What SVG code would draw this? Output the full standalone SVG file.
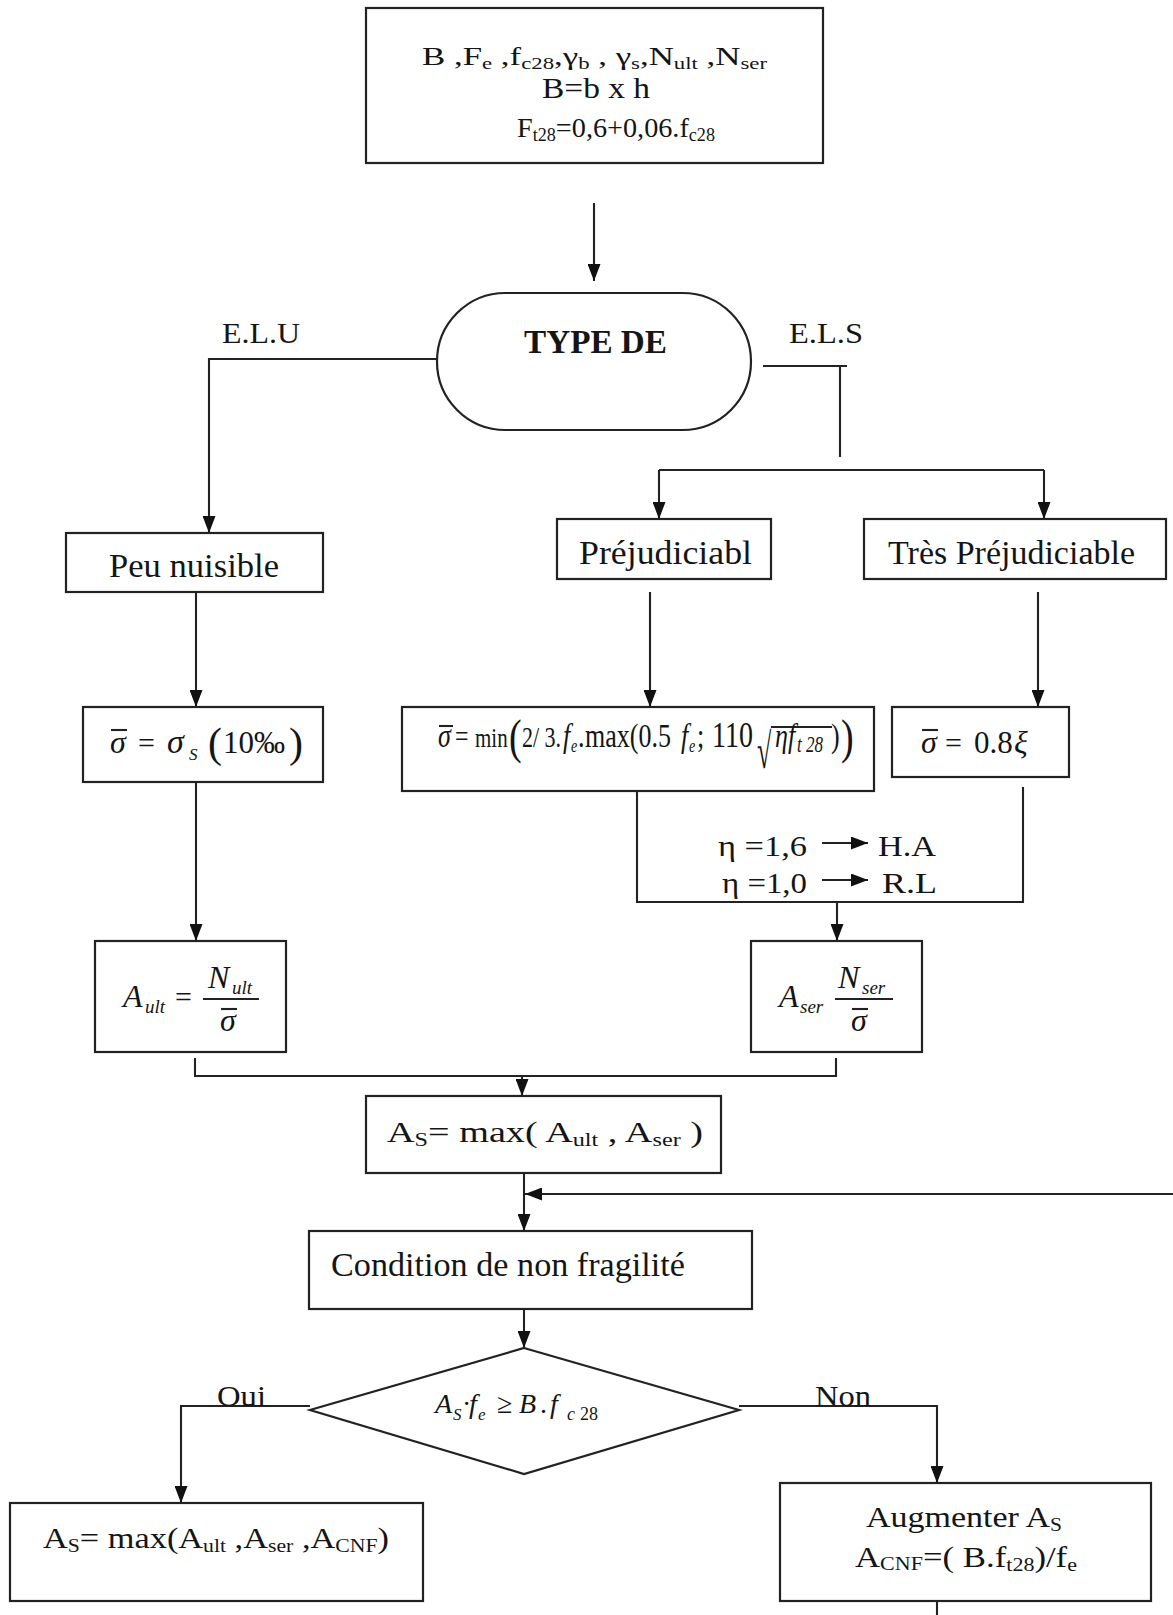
<svg xmlns="http://www.w3.org/2000/svg" width="1173" height="1615" viewBox="0 0 1173 1615">
<style>
.box{fill:#fff;stroke:#222;stroke-width:2.2}
.ln{fill:none;stroke:#222;stroke-width:2.1}
.ar{fill:none;stroke:#222;stroke-width:2.1;marker-end:url(#ah)}
.t{font-family:"Liberation Serif","Times New Roman",serif;fill:#151515}
.i{font-style:italic}
.b{font-weight:bold}
</style>
<defs>
<marker id="ah" viewBox="0 0 10 10" refX="10" refY="5" markerWidth="17" markerHeight="13" markerUnits="userSpaceOnUse" orient="auto" preserveAspectRatio="none"><path d="M0,0 L10,5 L0,10 z" fill="#111"/></marker>
</defs>
<rect width="1173" height="1615" fill="#fff"/>

<g id="connectors">
<path class="ar" d="M594,203 V281"/>
<path class="ar" d="M437,359 H209 V533"/>
<path class="ln" d="M763,366 H847 M840,366 V457"/>
<path class="ln" d="M659,470 H1044"/>
<path class="ar" d="M659,470 V519"/>
<path class="ar" d="M1044,470 V519"/>
<path class="ar" d="M196,592 V707"/>
<path class="ar" d="M650,592 V707"/>
<path class="ar" d="M1038,592 V707"/>
<path class="ar" d="M196,782 V941"/>
<path class="ln" d="M637,785 V902 H1023 V787"/>
<path class="ar" d="M837,902 V941"/>
<path class="ln" d="M195,1058 V1076 H836 V1058"/>
<path class="ar" d="M522,1076 V1096"/>
<path class="ar" d="M524,1173 V1231"/>
<path class="ar" d="M1173,1194 H525"/>
<path class="ar" d="M524,1309 V1348"/>
<path class="ar" d="M310,1406 H181 V1503"/>
<path class="ar" d="M739,1406 H937 V1483"/>
<path class="ln" d="M937,1601 V1615"/>
<path class="ar" d="M822,843 H868"/>
<path class="ar" d="M822,880 H868"/>
</g>

<g id="inputs">
<rect class="box" x="366" y="8" width="457" height="155"/>
<text class="t" x="422" y="65" font-size="26" textLength="345" lengthAdjust="spacingAndGlyphs">B ,F<tspan font-size="17" dy="4">e</tspan><tspan dy="-4"> ,f</tspan><tspan font-size="17" dy="4">c28</tspan><tspan dy="-4">,γ</tspan><tspan font-size="17" dy="4">b</tspan><tspan dy="-4"> , γ</tspan><tspan font-size="17" dy="4">s</tspan><tspan dy="-4">,N</tspan><tspan font-size="17" dy="4">ult</tspan><tspan dy="-4"> ,N</tspan><tspan font-size="17" dy="4">ser</tspan></text>
<text class="t" x="542" y="98" font-size="30" textLength="108" lengthAdjust="spacingAndGlyphs">B=b x h</text>
<text class="t" x="517" y="137" font-size="28" textLength="198" lengthAdjust="spacingAndGlyphs">F<tspan font-size="18" dy="4">t28</tspan><tspan dy="-4">=0,6+0,06.f</tspan><tspan font-size="18" dy="4">c28</tspan></text>
</g>

<g id="type">
<rect class="box" x="437" y="293" width="314" height="137" rx="68.5" ry="68.5"/>
<text class="t b" x="524" y="353" font-size="34" textLength="143" lengthAdjust="spacingAndGlyphs">TYPE DE</text>
</g>

<g id="labels">
<text class="t" x="222" y="343" font-size="30" textLength="78" lengthAdjust="spacingAndGlyphs">E.L.U</text>
<text class="t" x="789" y="343" font-size="30" textLength="74" lengthAdjust="spacingAndGlyphs">E.L.S</text>
<text class="t" x="217" y="1406" font-size="30" textLength="49" lengthAdjust="spacingAndGlyphs">Oui</text>
<text class="t" x="815" y="1406" font-size="30" textLength="56" lengthAdjust="spacingAndGlyphs">Non</text>
</g>

<g id="peu">
<rect class="box" x="66" y="533" width="257" height="59"/>
<text class="t" x="109" y="577" font-size="34" textLength="170" lengthAdjust="spacingAndGlyphs">Peu nuisible</text>
</g>

<g id="prej">
<rect class="box" x="557" y="519" width="214" height="60"/>
<text class="t" x="579" y="564" font-size="34" textLength="173" lengthAdjust="spacingAndGlyphs">Préjudiciabl</text>
</g>

<g id="tres">
<rect class="box" x="864" y="519" width="302" height="60"/>
<text class="t" x="888" y="564" font-size="34" textLength="247" lengthAdjust="spacingAndGlyphs">Très Préjudiciable</text>
</g>

<g id="sigma1">
<rect class="box" x="83" y="707" width="240" height="75"/>
<line class="ln" x1="111" y1="730" x2="127" y2="730"/>
<text class="t" y="753" font-size="32"><tspan class="i" x="110">σ</tspan><tspan x="138" font-size="30">=</tspan><tspan class="i" x="167" font-size="34">σ</tspan><tspan class="i" x="189" y="760" font-size="17">S</tspan><tspan x="208" y="757" font-size="42">(</tspan><tspan x="223" y="753" font-size="31">10‰</tspan><tspan x="289" y="757" font-size="42">)</tspan></text>
</g>

<g id="sigma2">
<rect class="box" x="402" y="707" width="472" height="84"/>
<line class="ln" x1="439" y1="726" x2="453" y2="726"/>
<line class="ln" x1="771" y1="727" x2="832" y2="727"/>
<text class="t" font-size="26" transform="matrix(1 0 0 1.3 0 -224.1)"><tspan class="i" x="438" y="747">σ</tspan><tspan x="455" font-size="24">=</tspan><tspan x="475" font-size="21">min</tspan><tspan x="509" y="751.6" font-size="38">(</tspan><tspan x="522" y="747" font-size="22">2/ 3.</tspan><tspan class="i" x="563">f</tspan><tspan class="i" x="571" y="750.5" font-size="14">e</tspan><tspan x="578" y="747">.</tspan><tspan x="585">max(0.5</tspan><tspan class="i" x="681">f</tspan><tspan class="i" x="689" y="750.5" font-size="14">e</tspan><tspan x="697" y="747">;</tspan><tspan x="712" font-size="28">110</tspan><tspan class="i" x="775" font-size="26">ηf</tspan><tspan class="i" x="797" y="750.5" font-size="17">t 28</tspan><tspan x="831" y="747">)</tspan><tspan x="841" y="751.6" font-size="38">)</tspan></text>
<text class="t" x="757" y="768" font-size="26" transform="matrix(1 0 0 1.9 0 -691.2)">√</text>
</g>

<g id="sigma3">
<rect class="box" x="892" y="707" width="177" height="70"/>
<line class="ln" x1="922" y1="730" x2="938" y2="730"/>
<text class="t" y="753" font-size="31"><tspan class="i" x="921" font-size="32">σ</tspan><tspan x="945" font-size="30">=</tspan><tspan x="974">0.8</tspan><tspan class="i" x="1014" font-size="32">ξ</tspan></text>
</g>

<g id="eta">
<text class="t" x="718" y="856" font-size="29" textLength="89" lengthAdjust="spacingAndGlyphs">η =1,6</text>
<text class="t" x="878" y="856" font-size="29" textLength="58" lengthAdjust="spacingAndGlyphs">H.A</text>
<text class="t" x="722" y="893" font-size="29" textLength="85" lengthAdjust="spacingAndGlyphs">η =1,0</text>
<text class="t" x="882" y="893" font-size="29" textLength="55" lengthAdjust="spacingAndGlyphs">R.L</text>
</g>

<g id="ault">
<rect class="box" x="95" y="941" width="191" height="111"/>
<line class="ln" x1="203" y1="999" x2="259" y2="999"/>
<line class="ln" x1="221" y1="1009" x2="237" y2="1009"/>
<text class="t i" font-size="32"><tspan x="123" y="1007">A</tspan><tspan x="145" y="1013" font-size="19">ult</tspan><tspan x="175" y="1007" font-size="30" font-style="normal">=</tspan><tspan x="208" y="988">N</tspan><tspan x="232" y="994" font-size="19">ult</tspan><tspan x="220" y="1031">σ</tspan></text>
</g>

<g id="aser">
<rect class="box" x="751" y="941" width="171" height="111"/>
<line class="ln" x1="835" y1="999" x2="893" y2="999"/>
<line class="ln" x1="852" y1="1009" x2="868" y2="1009"/>
<text class="t i" font-size="32"><tspan x="779" y="1007">A</tspan><tspan x="800" y="1013" font-size="19">ser</tspan><tspan x="838" y="988">N</tspan><tspan x="862" y="994" font-size="19">ser</tspan><tspan x="851" y="1031">σ</tspan></text>
</g>

<g id="asmax">
<rect class="box" x="366" y="1096" width="355" height="77"/>
<text class="t" x="387" y="1142" font-size="30" textLength="316" lengthAdjust="spacingAndGlyphs">A<tspan font-size="19" dy="4">S</tspan><tspan dy="-4">= max( A</tspan><tspan font-size="19" dy="4">ult</tspan><tspan dy="-4"> , A</tspan><tspan font-size="19" dy="4">ser</tspan><tspan dy="-4"> )</tspan></text>
</g>

<g id="cnf">
<rect class="box" x="309" y="1231" width="443" height="78"/>
<text class="t" x="331" y="1276" font-size="33" textLength="354" lengthAdjust="spacingAndGlyphs">Condition de non fragilité</text>
</g>

<g id="test">
<polygon class="box" points="524,1348 739,1410 524,1474 310,1410"/>
<text class="t" y="1413" font-size="28"><tspan class="i" x="435">A</tspan><tspan class="i" x="453" y="1420" font-size="17">S</tspan><tspan x="462" y="1413">·</tspan><tspan class="i" x="469">f</tspan><tspan class="i" x="478" y="1420" font-size="17">e</tspan><tspan x="497" y="1413">≥</tspan><tspan class="i" x="519">B</tspan><tspan x="540">.</tspan><tspan class="i" x="550">f</tspan><tspan class="i" x="567" y="1420" font-size="18">c</tspan><tspan x="580" font-size="18">28</tspan></text>
</g>

<g id="oui">
<rect class="box" x="10" y="1503" width="413" height="98"/>
<text class="t" x="43" y="1548" font-size="30" textLength="346" lengthAdjust="spacingAndGlyphs">A<tspan font-size="19" dy="4">S</tspan><tspan dy="-4">= max(A</tspan><tspan font-size="19" dy="4">ult</tspan><tspan dy="-4"> ,A</tspan><tspan font-size="19" dy="4">ser</tspan><tspan dy="-4"> ,A</tspan><tspan font-size="19" dy="4">CNF</tspan><tspan dy="-4">)</tspan></text>
</g>

<g id="non">
<rect class="box" x="780" y="1483" width="371" height="118"/>
<text class="t" x="866" y="1527" font-size="30" textLength="196" lengthAdjust="spacingAndGlyphs">Augmenter A<tspan font-size="19" dy="4">S</tspan></text>
<text class="t" x="855" y="1567" font-size="30" textLength="222" lengthAdjust="spacingAndGlyphs">A<tspan font-size="19" dy="3">CNF</tspan><tspan dy="-3">=( B.f</tspan><tspan font-size="19" dy="4">t28</tspan><tspan dy="-4">)/f</tspan><tspan font-size="19" dy="4">e</tspan></text>
</g>
</svg>
